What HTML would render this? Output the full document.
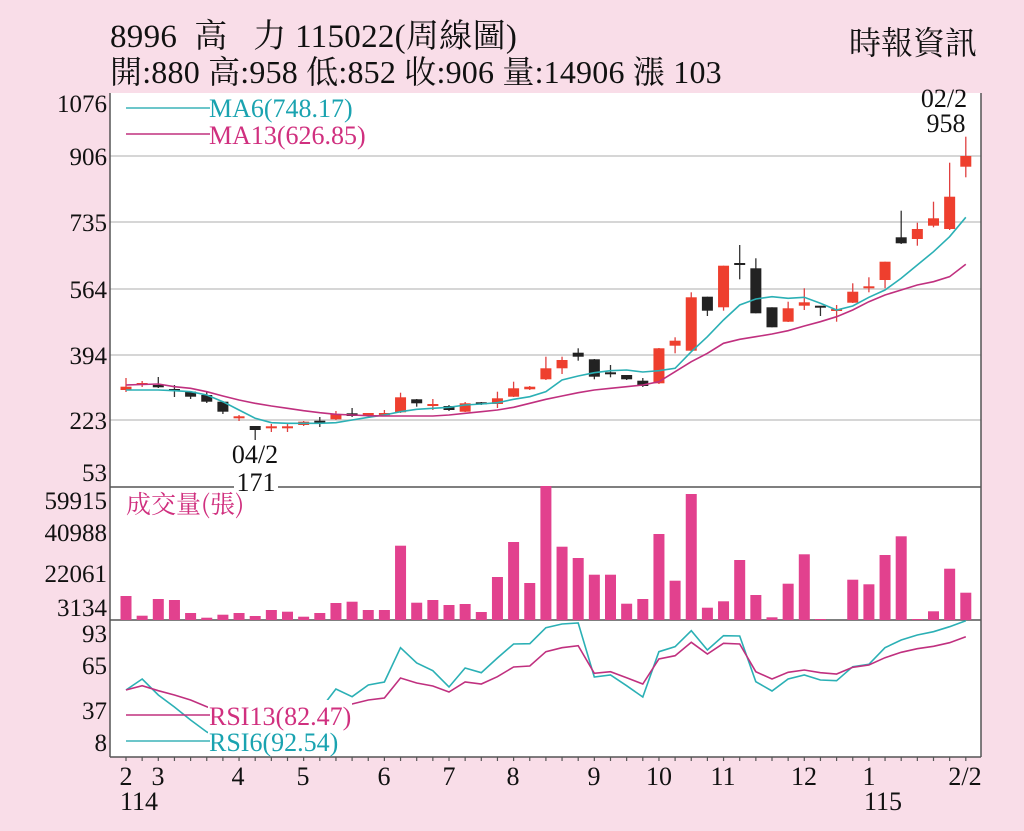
<!DOCTYPE html>
<html><head><meta charset="utf-8"><style>
html,body{margin:0;padding:0;background:#f9dde8;}
body{width:1024px;height:831px;overflow:hidden;position:relative;font-family:"Liberation Serif","Noto Serif CJK SC",serif;}
.t{position:absolute;white-space:nowrap;color:#111;}
</style></head><body>
<div class="t" style="left:110px;top:10px;font-size:33px;letter-spacing:0.3px;">8996 &nbsp;高 &nbsp;&nbsp;力 115022(周線圖)</div>
<div class="t" style="left:110px;top:47px;font-size:32px;letter-spacing:0.2px;">開:880 高:958 低:852 收:906 量:14906 漲 103</div>
<div class="t" style="left:849px;top:18px;font-size:32px;">時報資訊</div>
<svg id="s" width="1024" height="831" style="position:absolute;left:0;top:0" xmlns="http://www.w3.org/2000/svg" font-family="Liberation Serif, serif">
<rect x="110" y="93" width="871" height="664" fill="#fff"/>
<g stroke="#c8c8c8" stroke-width="1.5">
<line x1="110" y1="156" x2="981" y2="156"/><line x1="110" y1="222" x2="981" y2="222"/>
<line x1="110" y1="289" x2="981" y2="289"/><line x1="110" y1="355" x2="981" y2="355"/>
<line x1="110" y1="420" x2="981" y2="420"/>
</g>
<g stroke="#555" stroke-width="1.5" fill="none">
<line x1="110" y1="487" x2="981" y2="487"/><line x1="110" y1="620" x2="981" y2="620"/>
<line x1="110" y1="757" x2="981" y2="757"/><line x1="110" y1="93" x2="110" y2="757"/>
<line x1="981" y1="93" x2="981" y2="757"/>
</g>
<g id="g"></g>
<g font-size="25" fill="#111" text-anchor="end">
<text x="107" y="112">1076</text><text x="107" y="165">906</text><text x="107" y="231">735</text>
<text x="107" y="298">564</text><text x="107" y="364">394</text><text x="107" y="429">223</text>
<text x="107" y="481">53</text>
<text x="107" y="509">59915</text><text x="107" y="541">40988</text><text x="107" y="582">22061</text>
<text x="107" y="616">3134</text>
<text x="107" y="642">93</text><text x="107" y="674">65</text><text x="107" y="719">37</text><text x="107" y="751">8</text>
</g>
<g font-size="26" fill="#111" text-anchor="middle">
<text x="126" y="785">2</text><text x="158" y="785">3</text><text x="238" y="785">4</text><text x="303" y="785">5</text>
<text x="384" y="785">6</text><text x="449" y="785">7</text><text x="513" y="785">8</text><text x="594" y="785">9</text>
<text x="659" y="785">10</text><text x="723" y="785">11</text><text x="804" y="785">12</text><text x="869" y="785">1</text>
<text x="965" y="785">2/2</text><text x="139" y="810">114</text><text x="883" y="810">115</text>
<text x="255" y="463">04/2</text><text x="944" y="107">02/2</text><text x="946" y="132">958</text>
</g>
<rect x="234" y="468" width="44" height="24" fill="#fff"/>
<text x="256" y="491" font-size="26" text-anchor="middle" fill="#111">171</text>
<line x1="126" y1="108" x2="210" y2="108" stroke="#3bb3b8" stroke-width="1.5"/>
<line x1="126" y1="134" x2="210" y2="134" stroke="#c0307f" stroke-width="1.5"/>
<text x="209" y="117" font-size="26" fill="#1aa3b0">MA6(748.17)</text>
<text x="209" y="144" font-size="26" fill="#d0307f">MA13(626.85)</text>
<text x="126" y="513" font-size="25" fill="#d0307f" font-family="Noto Serif CJK SC, serif">成交量(張)</text>
</svg>
<script>
var g=document.getElementById('g');var ns='http://www.w3.org/2000/svg';
function X(i){return 126+i*16.15;}
function el(t,a){var e=document.createElementNS(ns,t);for(var k in a)e.setAttribute(k,a[k]);g.appendChild(e);return e;}
var vol=[596,615.7,599,600,613,617.7,614.7,613,616,610,611.7,616.7,613,603,601.7,610,610,545.7,602.7,600,605,604,612,577,542,583,486,546.7,558,574.7,574.7,603.7,599,534,580.7,494,607.7,601.3,560,595,617.3,583.7,554.3,619,620,579.7,584.3,555,536.3,619,611.3,568.7,592.7];
vol.forEach(function(v,i){el('rect',{x:X(i)-5.5,y:v,width:11,height:620-v,fill:'#e2418e'});});
var c=[[386.7,390,378,392,'r'],[384,384,381,387,'r'],[385,387.3,377,388,'b'],[390,390,385,397,'b'],[391.7,396.7,391,399,'b'],[395,401.7,392,403,'b'],[401.7,411.7,401,414,'b'],[417.3,417.3,415,421,'r'],[426,430,426,440,'b'],[427.3,427.3,424,432,'r'],[427.3,427.3,424,432,'r'],[421.7,425,421,426,'r'],[421.7,421.7,417,427,'b'],[414,419.3,411,420,'r'],[413.3,416,408,417,'b'],[414,415,413,416,'r'],[413,415.3,410,416,'r'],[397.3,412.3,392.7,413,'r'],[399.3,403.3,399,406.7,'b'],[405,405,399,410,'r'],[406,410,405,411,'b'],[403.3,411.7,402,412,'r'],[403.3,404.3,402,405,'b'],[398.3,404,391.7,408,'r'],[388.3,396.7,381.7,397,'r'],[386.7,389.3,386,390,'r'],[368.3,379.3,356.7,380,'r'],
[360,368.3,356.7,374,'r'],[352.7,356.7,348.3,360.7,'b'],[359.3,376.7,359,379.3,'b'],[373.3,373.3,365,377.3,'b'],[375,379.3,375,380,'b'],[380.7,386,378,387,'b'],[348.3,383.3,348,384,'r'],[340.7,345.7,337.3,353.3,'r'],[297.3,350.7,292.3,351,'r'],[296.7,310.7,296.7,316,'b'],[265.7,307.3,265.7,310.7,'r'],[264,264,245,279.3,'b'],[268.3,313.3,258.3,313.3,'b'],[307.3,327.3,307.3,327.3,'b'],[308.3,321.7,301.7,322,'r'],[302.3,305.7,288.3,310,'r'],[306.7,306.7,306.7,316,'b'],[310,310,305,321.7,'r'],[291.7,302.7,283.3,303,'r'],[287.3,287.3,277.3,292.3,'r'],[261.7,280,261.7,288.3,'r'],[237.3,243.3,210.7,244,'b'],[229,239,222.7,245.7,'r'],[218.3,225.7,201.7,227.3,'r'],[196.7,229,162.7,230,'r'],[156,166.7,136.7,177.3,'r']];
c.forEach(function(d,i){var x=X(i),col=d[4]=='r'?'#ee3f2e':'#222';
el('line',{x1:x,y1:d[2],x2:x,y2:d[3],stroke:d[4]=='r'?'#e04040':'#333','stroke-width':1.3});
var h=Math.max(d[1]-d[0],2);el('rect',{x:x-5.5,y:d[0]-(d[1]-d[0]<2?1:0),width:11,height:h,fill:col});});
function line(arr,col){var p=arr.map(function(y,i){return X(i).toFixed(1)+','+y;}).join(' ');el('polyline',{points:p,fill:'none',stroke:col,'stroke-width':1.6});}
line([390,390,390,390.7,391.7,395,401.7,410,418.3,422.7,423.3,423.3,423.3,422.7,420,417.3,415,411.7,409.3,408.3,407.3,405,404,402.7,399.3,396.7,391.7,380,376,372.7,370.7,370,372,370.7,368.3,351.7,336.7,320,305,299,296.7,298.3,297.3,303.3,310,306,297.3,290,278.3,265,251.7,236.7,217.3],'#2bb0b5');
line([385,384.5,384,386.7,388.3,391.7,396,400,403.3,406,408.3,410.7,412.7,414.3,415,415.7,416,416,416,416,415,413.3,411.7,410,407.3,403.3,399.3,396,392.7,390,388.3,386.7,385,381.7,371.7,361.7,353.3,343.3,339.3,336.7,334,330.7,326,321.7,316.7,310,301.7,295,290,285,281.7,276.7,264.3],'#c0307f');
line([690,679,695,707,720,732,740,742,740,738,735,725,710,689,696.7,685,682,647.7,663,670.7,687,668,672.7,658,644,643.7,627.7,624,623,677,675,685.7,697,651.7,646.7,630.7,650,635.7,636,681.7,691,679,675,680,680.7,666.7,664.3,647.7,640,635,631.7,626.7,620.7],'#2bb0b5');
line([690,685.7,690.7,695,700,706.7,712,716,718,718,716,712,708,706.7,704,700,698,678,683,686,692,682,684,676.7,667,666,651.7,647.7,645.7,673.3,671.7,677.7,684,659,655.7,642.3,654,643.3,644,671.7,679,672.3,670,672.7,674,667.3,665,657.7,652.3,648.7,646.3,642.7,636.7],'#c0307f');
el('rect',{x:208,y:700,width:144,height:56,fill:'#fff'});
el('line',{x1:126,y1:715,x2:210,y2:715,stroke:'#c0307f','stroke-width':1.5});
el('line',{x1:126,y1:741,x2:210,y2:741,stroke:'#3bb3b8','stroke-width':1.5});
for(var i=0;i<53;i++){el('line',{x1:X(i),y1:757,x2:X(i),y2:761,stroke:'#555','stroke-width':1.2});}
</script>
<svg width="1024" height="831" style="position:absolute;left:0;top:0" font-family="Liberation Serif, serif">
<text x="209" y="725" font-size="26" fill="#d0307f">RSI13(82.47)</text>
<text x="209" y="751" font-size="26" fill="#1aa3b0">RSI6(92.54)</text>
</svg>
</body></html>
